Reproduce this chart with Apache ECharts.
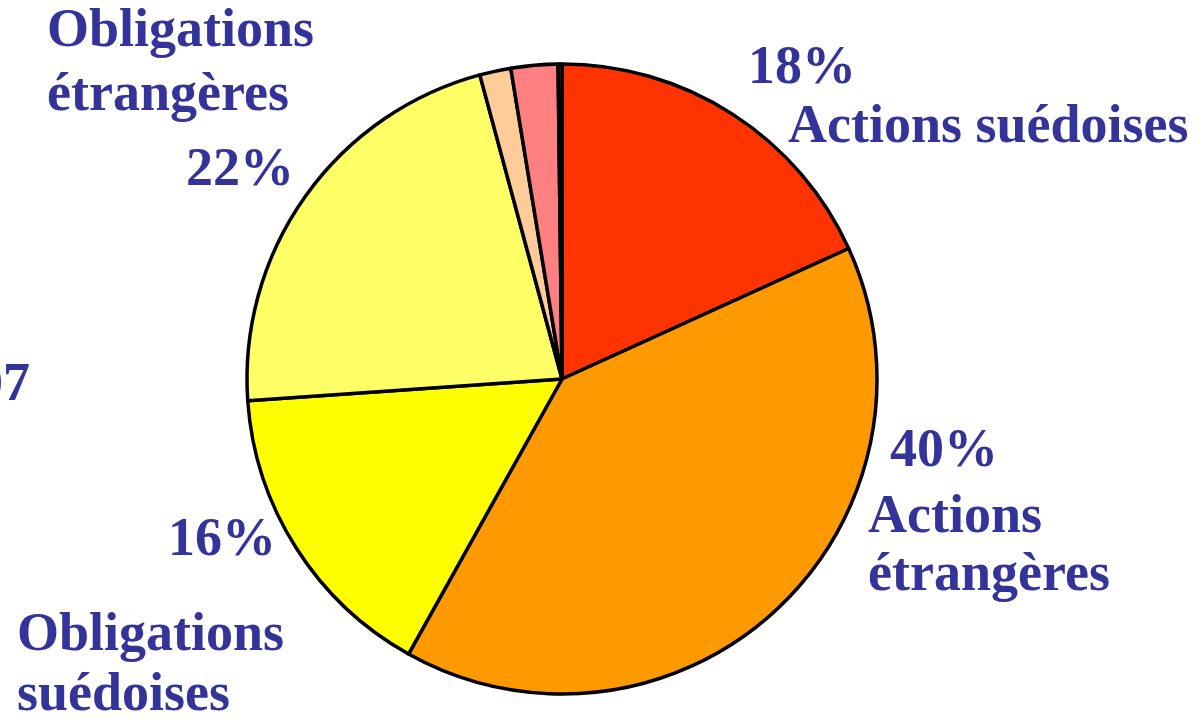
<!DOCTYPE html>
<html>
<head>
<meta charset="utf-8">
<script src="https://cdn.jsdelivr.net/npm/echarts@6/dist/echarts.min.js"></script>
<style>
html,body{margin:0;padding:0;background:#fff;}
#c{width:1196px;height:718px;}
</style>
</head>
<body>
<div id="c"></div>
<script>
// Data
const categories = ['Actions suédoises', 'Actions étrangères', 'Obligations suédoises', 'Obligations étrangères', 'Autre 1', 'Autre 2', 'Autre 3'];
const values = [18.2, 39.9, 15.8, 21.9, 1.6, 2.4, 0.2];
const colors = ['#FF3300', '#FF9900', '#FFFF00', '#FFFF66', '#FFCC99', '#FF8080', '#CC3300'];
const pctLabels = ['18%', '40%', '16%', '22%'];
const nameLines = [['Actions suédoises'], ['Actions', 'étrangères'], ['Obligations', 'suédoises'], ['Obligations', 'étrangères']];
const yearText = '2007';

const chart = echarts.init(document.getElementById('c'));
const FS = 54;
const COLOR = '#333399';
const FONT = '"Liberation Serif", "DejaVu Serif", serif';
const off = 0.27 * FS;

// Layout: [x, baseline] for percent and name lines
const pctPos = [[748, 84], [890, 467], [168, 556], [186, 186]];
const namePos = [[[788, 143]], [[868, 533], [868, 591]], [[17, 651], [17, 711]], [[47, 47], [47, 111]]];

const graphics = [];
function txt(s, x, base, align) {
  graphics.push({
    type: 'text', x: x, y: base - off,
    style: { text: s, fill: COLOR, font: 'bold ' + FS + 'px ' + FONT, textAlign: align || 'left', textVerticalAlign: 'middle' }
  });
}
pctLabels.forEach((p, i) => txt(p, pctPos[i][0], pctPos[i][1]));
nameLines.forEach((lines, i) => lines.forEach((l, j) => txt(l, namePos[i][j][0], namePos[i][j][1])));
txt(yearText, 30, 401, 'right');

chart.setOption({
  animation: false,
  series: [{
    type: 'pie',
    center: [562, 379],
    radius: 315,
    startAngle: 90,
    clockwise: true,
    label: { show: false },
    labelLine: { show: false },
    itemStyle: { borderColor: '#000', borderWidth: 3.5 },
    emphasis: { disabled: true },
    data: categories.map((c, i) => ({ name: c, value: values[i], itemStyle: { color: colors[i] } }))
  }],
  graphic: graphics
});
</script>
</body>
</html>
